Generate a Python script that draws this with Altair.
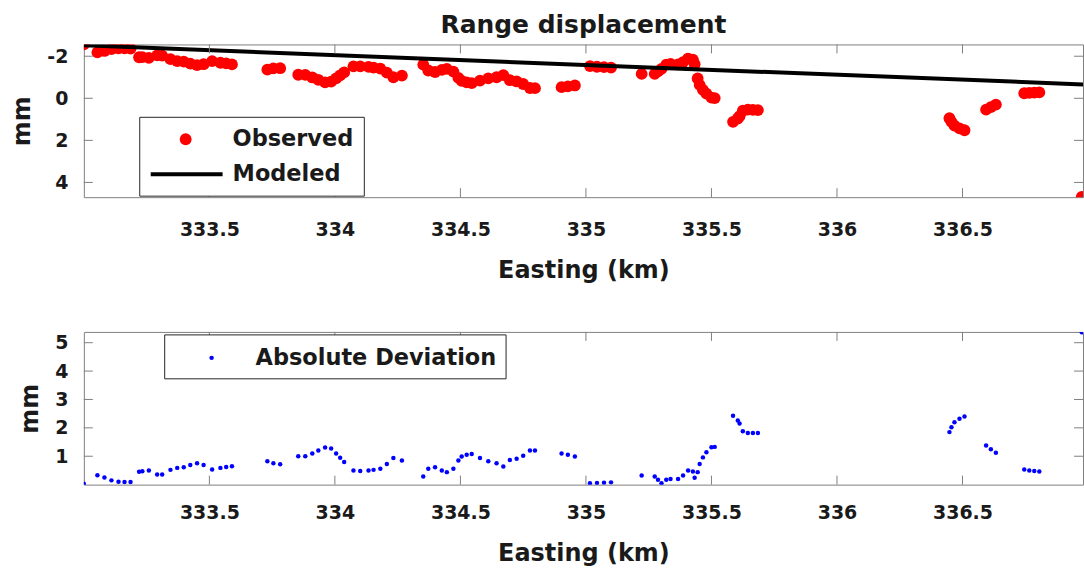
import altair as alt
import pandas as pd

FONT = "DejaVu Sans"
TXT = "#1a1a1a"
FRAME = "#808080"

# ---- data ----
easting = [
    333.000,
    333.054, 333.082, 333.110, 333.138, 333.162, 333.186,
    333.220, 333.233, 333.259, 333.292, 333.312, 333.345, 333.372, 333.398, 333.424,
    333.451, 333.477, 333.511, 333.544, 333.567, 333.590,
    333.731, 333.755, 333.782,
    333.854, 333.882, 333.910, 333.934, 333.961, 333.985, 334.005, 334.021, 334.037,
    334.074, 334.101, 334.134, 334.154, 334.181, 334.207, 334.233, 334.267,
    334.352, 334.372, 334.399, 334.426, 334.446, 334.472, 334.492, 334.505, 334.525,
    334.545, 334.578, 334.611, 334.644, 334.671, 334.697, 334.724, 334.750, 334.777, 334.797,
    334.903, 334.928, 334.956,
    335.016, 335.044, 335.072, 335.100,
    335.222, 335.274, 335.287, 335.301, 335.320, 335.337, 335.367, 335.387, 335.407,
    335.426, 335.433, 335.445, 335.453, 335.466, 335.480, 335.500, 335.513,
    335.586, 335.605, 335.612, 335.625, 335.645, 335.665, 335.685,
    336.448, 336.456, 336.468, 336.488, 336.508,
    336.594, 336.613, 336.633,
    336.746, 336.766, 336.786, 336.806,
    336.975,
]
observed = [
    -2.56,
    -2.18, -2.25, -2.34, -2.38, -2.37, -2.36,
    -1.95, -1.96, -1.92, -2.04, -2.03, -1.86, -1.77, -1.74, -1.65,
    -1.58, -1.62, -1.77, -1.69, -1.66, -1.61,
    -1.36, -1.42, -1.43,
    -1.12, -1.11, -0.99, -0.88, -0.76, -0.79, -0.95, -1.09, -1.23,
    -1.52, -1.52, -1.49, -1.46, -1.41, -1.22, -1.00, -1.08,
    -1.60, -1.32, -1.25, -1.35, -1.40, -1.27, -0.97, -0.83, -0.76,
    -0.72, -0.84, -0.95, -1.00, -1.10, -0.86, -0.80, -0.68, -0.49, -0.48,
    -0.53, -0.57, -0.61,
    -1.53, -1.50, -1.48, -1.46,
    -1.16, -1.16, -1.28, -1.40, -1.60, -1.63, -1.61, -1.72, -1.89,
    -1.84, -1.62, -0.94, -0.64, -0.40, -0.22, -0.03, -0.01,
    1.12, 0.96, 0.85, 0.59, 0.54, 0.55, 0.56,
    0.95, 1.12, 1.30, 1.43, 1.52,
    0.54, 0.42, 0.30,
    -0.24, -0.26, -0.27, -0.28,
    4.69,
]
deviation = [
    0.03,
    0.33, 0.25, 0.15, 0.10, 0.09, 0.09,
    0.45, 0.47, 0.50, 0.36, 0.36, 0.52, 0.59, 0.61, 0.69,
    0.75, 0.69, 0.53, 0.59, 0.62, 0.65,
    0.82, 0.75, 0.72,
    1.00, 1.00, 1.10, 1.20, 1.31, 1.27, 1.10, 0.95, 0.80,
    0.50, 0.48, 0.50, 0.52, 0.56, 0.73, 0.94, 0.85,
    0.29, 0.56, 0.61, 0.50, 0.44, 0.56, 0.85, 0.99, 1.05,
    1.08, 0.94, 0.82, 0.75, 0.64, 0.87, 0.91, 1.02, 1.20, 1.20,
    1.10, 1.05, 0.99,
    0.05, 0.06, 0.07, 0.08,
    0.32, 0.29, 0.17, 0.05, 0.17, 0.20, 0.20, 0.32, 0.50,
    0.46, 0.24, 0.44, 0.73, 0.96, 1.14, 1.32, 1.33,
    2.43, 2.26, 2.15, 1.88, 1.82, 1.82, 1.82,
    1.85, 2.02, 2.20, 2.32, 2.40,
    1.38, 1.25, 1.12,
    0.53, 0.50, 0.48, 0.46,
    5.37,
]
model_easting = [333.0, 336.98]
modeled = [-2.52, -0.66]

x_ticks = [333.5, 334, 334.5, 335, 335.5, 336, 336.5]
y_ticks_top = [-2, 0, 2, 4]
y_ticks_bottom = [1, 2, 3, 4, 5]
legend_top_labels = ["Observed", "Modeled"]
legend_bottom_labels = ["Absolute Deviation"]

X_DOMAIN = [333.0, 336.98]
TOP_DOMAIN = [-2.56, 4.70]
BOT_DOMAIN = [0.0, 5.38]
W = 1001
H_TOP = 153
H_BOT = 153
TICK = 9

obs_df = pd.DataFrame({"easting": easting, "observed": observed, "deviation": deviation})
model_df = pd.DataFrame({"easting": model_easting, "modeled": modeled})
xt_df = pd.DataFrame({"v": x_ticks})
ytt_df = pd.DataFrame({"v": y_ticks_top})
ytb_df = pd.DataFrame({"v": y_ticks_bottom})
one = pd.DataFrame({"k": [0]})

xscale = alt.Scale(domain=X_DOMAIN, nice=False, zero=False)
top_scale = alt.Scale(domain=TOP_DOMAIN, reverse=True, nice=False, zero=False)
bot_scale = alt.Scale(domain=BOT_DOMAIN, nice=False, zero=False)


def x_axis(label_pad):
    return alt.Axis(values=x_ticks, labelExpr="'' + datum.value", title="Easting (km)",
                    labelPadding=label_pad, titlePadding=19, tickSize=0, labelFlush=False,
                    labelOverlap=False, grid=False, domain=False, ticks=False)


def y_axis(vals):
    return alt.Axis(values=vals, labelExpr="'' + datum.value", title="mm",
                    labelPadding=16, titlePadding=12, tickSize=0, labelOverlap=False,
                    labelFlush=False, grid=False, domain=False, ticks=False)


def inside_ticks(yscale, yvals_df, h, xax, yax):
    xb = alt.Chart(xt_df).mark_rule(color=FRAME, strokeWidth=1).encode(
        x=alt.X("v:Q", scale=xscale, axis=xax), y=alt.value(h), y2=alt.value(h - TICK))
    xt = alt.Chart(xt_df).mark_rule(color=FRAME, strokeWidth=1).encode(
        x=alt.X("v:Q", scale=xscale, axis=xax), y=alt.value(0), y2=alt.value(TICK))
    yl = alt.Chart(yvals_df).mark_rule(color=FRAME, strokeWidth=1).encode(
        y=alt.Y("v:Q", scale=yscale, axis=yax), x=alt.value(0), x2=alt.value(TICK))
    yr = alt.Chart(yvals_df).mark_rule(color=FRAME, strokeWidth=1).encode(
        y=alt.Y("v:Q", scale=yscale, axis=yax), x=alt.value(W - TICK), x2=alt.value(W))
    return [xb, xt, yl, yr]


LEG_FS = 22.5

# ---- top panel ----
xa_top = x_axis(23)
ya_top = y_axis(y_ticks_top)
obs_layer = alt.Chart(obs_df).mark_circle(color="#ff0000", opacity=1, size=140, clip=True).encode(
    x=alt.X("easting:Q", scale=xscale, axis=xa_top),
    y=alt.Y("observed:Q", scale=top_scale, axis=ya_top),
)
model_layer = alt.Chart(model_df).mark_line(color="black", strokeWidth=4, clip=True).encode(
    x=alt.X("easting:Q", scale=xscale, axis=xa_top),
    y=alt.Y("modeled:Q", scale=top_scale, axis=ya_top),
)
leg_box_top = alt.Chart(one).mark_rect(fill="white", stroke="#262626", strokeWidth=1).encode(
    x=alt.value(56), x2=alt.value(281), y=alt.value(73), y2=alt.value(152))
leg_dot_top = alt.Chart(one).mark_circle(color="#ff0000", opacity=1, size=140).encode(
    x=alt.value(102), y=alt.value(95))
leg_line_top = alt.Chart(one).mark_rule(color="black", strokeWidth=4).encode(
    x=alt.value(67), x2=alt.value(139), y=alt.value(130))
leg_txt1 = alt.Chart(one).mark_text(align="left", baseline="middle", font=FONT, fontSize=LEG_FS,
                                    fontWeight="bold", color=TXT).encode(
    x=alt.value(149), y=alt.value(95), text=alt.value(legend_top_labels[0]))
leg_txt2 = alt.Chart(one).mark_text(align="left", baseline="middle", font=FONT, fontSize=LEG_FS,
                                    fontWeight="bold", color=TXT).encode(
    x=alt.value(149), y=alt.value(130), text=alt.value(legend_top_labels[1]))

top = alt.layer(
    obs_layer, model_layer,
    *inside_ticks(top_scale, ytt_df, H_TOP, xa_top, ya_top),
    leg_box_top, leg_dot_top, leg_line_top, leg_txt1, leg_txt2,
).properties(
    width=W, height=H_TOP,
    title=alt.TitleParams("Range displacement", font=FONT, fontSize=25, fontWeight="bold",
                          color=TXT, offset=6, anchor="middle"),
)

# ---- bottom panel ----
xa_bot = x_axis(19)
ya_bot = y_axis(y_ticks_bottom)
dev_layer = alt.Chart(obs_df).mark_circle(color="#0000ff", opacity=1, size=20, clip=True).encode(
    x=alt.X("easting:Q", scale=xscale, axis=xa_bot),
    y=alt.Y("deviation:Q", scale=bot_scale, axis=ya_bot),
)
leg_box_bot = alt.Chart(one).mark_rect(fill="white", stroke="#262626", strokeWidth=1).encode(
    x=alt.value(81), x2=alt.value(423), y=alt.value(3), y2=alt.value(47))
leg_dot_bot = alt.Chart(one).mark_circle(color="#0000ff", opacity=1, size=20).encode(
    x=alt.value(128), y=alt.value(26))
leg_txt3 = alt.Chart(one).mark_text(align="left", baseline="middle", font=FONT, fontSize=LEG_FS,
                                    fontWeight="bold", color=TXT).encode(
    x=alt.value(172), y=alt.value(26), text=alt.value(legend_bottom_labels[0]))

bottom = alt.layer(
    dev_layer,
    *inside_ticks(bot_scale, ytb_df, H_BOT, xa_bot, ya_bot),
    leg_box_bot, leg_dot_bot, leg_txt3,
).properties(width=W, height=H_BOT)

chart = alt.vconcat(top, bottom, spacing=48).properties(
    padding={"left": 10, "top": 12, "right": 0, "bottom": 0},
    background="white",
).configure_view(
    stroke=FRAME, strokeWidth=1
).configure_axis(
    domain=False, ticks=False, grid=False,
    labelFont=FONT, labelFontSize=19, labelFontWeight="bold", labelColor=TXT,
    titleFont=FONT, titleFontSize=24, titleFontWeight="bold", titleColor=TXT,
)

chart.save("out.html", embed_options={"renderer": "svg", "actions": False})
